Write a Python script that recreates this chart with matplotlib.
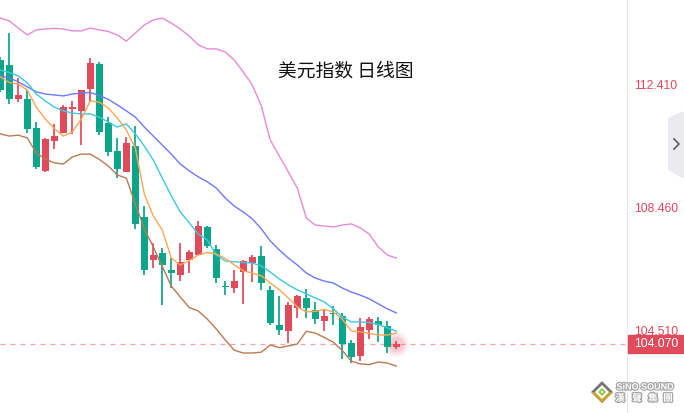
import matplotlib
matplotlib.use('Agg')
import matplotlib.pyplot as plt
import matplotlib.patheffects as pe
from matplotlib.patches import Polygon, Rectangle
from matplotlib.transforms import blended_transform_factory
import numpy as np

# 美元指数 日线 K线
opens = [113.20, 113.04, 111.95, 111.95, 111.02, 109.64, 110.60, 110.86, 111.63, 111.57,
         112.27, 113.08, 111.18, 110.28, 109.61, 110.44, 108.16, 106.78, 107.00, 106.46,
         106.30, 106.78, 106.94, 107.84, 107.13, 105.94, 105.88, 106.39, 106.68, 106.91,
         105.82, 104.69, 104.50, 105.24, 105.56, 105.17, 104.82, 105.08, 104.98, 104.11,
         103.70, 104.53, 104.82, 104.66, 103.98]
highs = [113.30, 114.07, 112.63, 112.24, 111.21, 110.70, 111.15, 111.76, 111.89, 112.24,
         113.27, 113.14, 111.37, 110.70, 110.73, 111.08, 108.51, 107.33, 107.16, 106.84,
         107.33, 107.10, 108.03, 107.87, 107.26, 106.10, 106.46, 106.78, 106.94, 107.23,
         105.94, 105.62, 105.43, 105.65, 105.85, 105.43, 105.17, 105.30, 105.08, 104.21,
         104.92, 104.95, 104.95, 104.82, 104.18]
lows = [112.18, 111.79, 111.85, 110.86, 109.70, 109.61, 110.34, 110.86, 110.83, 110.47,
        111.85, 110.79, 110.12, 109.41, 109.61, 107.78, 106.30, 106.52, 105.33, 105.88,
        106.10, 106.36, 106.94, 107.16, 106.04, 105.65, 105.72, 105.37, 106.07, 105.82,
        104.69, 104.37, 104.11, 104.92, 104.92, 104.72, 104.50, 104.69, 103.60, 103.47,
        103.53, 104.24, 104.14, 103.79, 103.92]
closes = [112.24, 111.95, 112.08, 110.99, 109.77, 110.67, 110.76, 111.69, 111.69, 112.24,
          113.11, 110.89, 110.25, 109.70, 110.54, 107.94, 106.46, 106.94, 106.62, 106.36,
          106.72, 107.04, 107.87, 107.23, 106.20, 105.91, 106.10, 106.75, 106.88, 106.04,
          104.76, 104.53, 105.33, 105.62, 105.24, 104.88, 104.98, 105.04, 104.08, 103.66,
          104.63, 104.88, 104.69, 103.98, 104.07]

# 均线 / 布林带
ma_short = [112.66, 112.48, 112.43, 112.24, 111.69, 111.31, 111.00, 110.76, 110.89, 111.31,
            111.89, 111.85, 111.66, 111.34, 110.96, 110.38, 108.90, 108.19, 107.74, 106.84,
            106.62, 106.76, 106.94, 107.02, 106.97, 106.83, 106.62, 106.43, 106.36, 106.27,
            106.04, 105.82, 105.56, 105.27, 105.11, 105.13, 105.19, 105.11, 104.88, 104.50,
            104.47, 104.42, 104.37, 104.37, 104.43]
ma_mid = [112.88, 112.80, 112.69, 112.47, 112.11, 111.89, 111.69, 111.57, 111.50, 111.47,
          111.47, 111.37, 111.21, 111.05, 111.15, 110.83, 110.44, 109.99, 109.41, 108.84,
          108.32, 107.97, 107.61, 107.42, 106.94, 106.75, 106.72, 106.70, 106.68, 106.59,
          106.39, 106.17, 105.98, 105.82, 105.69, 105.56, 105.43, 105.21, 104.95, 104.79,
          104.79, 104.77, 104.71, 104.60, 104.50]
boll_mid = [112.69, 112.63, 112.50, 112.34, 112.18, 112.11, 112.08, 112.05, 112.11, 112.14,
            112.16, 112.06, 111.94, 111.76, 111.57, 111.37, 111.05, 110.76, 110.47, 110.18,
            109.86, 109.64, 109.45, 109.29, 109.09, 108.77, 108.51, 108.32, 108.10, 107.78,
            107.39, 107.10, 106.84, 106.62, 106.36, 106.20, 106.10, 106.04, 105.88, 105.75,
            105.65, 105.53, 105.37, 105.21, 105.08]
boll_up = [114.55, 114.46, 114.23, 114.01, 114.17, 114.20, 114.22, 114.20, 114.14, 114.14,
           114.23, 114.17, 114.12, 114.01, 113.81, 114.07, 114.33, 114.49, 114.55, 114.39,
           114.20, 113.97, 113.69, 113.56, 113.56, 113.46, 113.20, 112.82, 112.40, 111.73,
           110.63, 110.12, 109.61, 109.09, 108.13, 107.90, 107.87, 107.84, 107.90, 107.94,
           107.81, 107.61, 107.20, 106.94, 106.84]
boll_dn = [110.83, 110.76, 110.79, 110.70, 110.22, 110.02, 109.90, 109.86, 110.09, 110.18,
           110.18, 110.01, 109.80, 109.51, 109.41, 108.58, 107.78, 107.20, 106.57, 105.94,
           105.59, 105.25, 105.14, 104.88, 104.56, 104.21, 103.88, 103.79, 103.79, 103.82,
           104.05, 103.96, 104.02, 104.08, 104.49, 104.43, 104.29, 104.14, 103.87, 103.53,
           103.44, 103.42, 103.50, 103.47, 103.37]

price_ticks = [104.510, 108.460, 112.410]
last_price = 104.070
title = '美元指数 日线图'

UP = '#e04b5b'
DOWN = '#0ba68a'
TXT_RED = '#e2485a'

fig = plt.figure(figsize=(6.84, 4.13), dpi=100)
fig.patch.set_facecolor('white')
ax = fig.add_axes([0, 0, 627 / 684, 1])

x = np.arange(len(closes))
o = np.array(opens)
c = np.array(closes)
colors = [UP if cc >= oo else DOWN for oo, cc in zip(o, c)]
bottoms = np.minimum(o, c)
heights = np.maximum(np.abs(c - o), 0.045)

# 最新价虚线和光晕
ax.axhline(last_price, color='#f5a3ab', lw=0.9, dashes=(4, 4), zorder=1)
for s, a in [(330, 0.08), (220, 0.12), (130, 0.2)]:
    ax.scatter([x[-1]], [last_price], s=s, color='#ee6f80', alpha=a, linewidths=0, zorder=2)

ax.vlines(x, lows, highs, colors=colors, lw=1.25, zorder=3)
ax.bar(x, heights, bottom=bottoms, width=0.78, color=colors, linewidth=0, zorder=3.1)

ax.plot(x, boll_up, color='#e68ad8', lw=1.0, zorder=4)
ax.plot(x, boll_dn, color='#b97a52', lw=1.0, zorder=4)
ax.plot(x, boll_mid, color='#6b7bf0', lw=1.0, zorder=4)
ax.plot(x, ma_mid, color='#3fc6e2', lw=1.0, zorder=4)
ax.plot(x, ma_short, color='#ffa556', lw=1.0, zorder=4)

ax.set_xlim(-0.3 / 9, (627 - 0.3) / 9)
ax.set_ylim(101.864, 115.131)
ax.set_xticks([])
ax.yaxis.tick_right()
ax.set_yticks(price_ticks)
ax.set_yticklabels([f'{v:.3f}' for v in price_ticks], family='Liberation Sans')
ax.tick_params(axis='y', length=0, pad=5, labelcolor=TXT_RED, labelsize=8.8)
for side in ['top', 'left', 'bottom']:
    ax.spines[side].set_visible(False)
ax.spines['right'].set_color('#e8e8ec')
ax.spines['right'].set_linewidth(0.8)

# 最新价标签
bt = blended_transform_factory(ax.transAxes, ax.transData)
ax.add_patch(Rectangle((1.0015, last_price - 0.29), 60 / 627, 0.58, transform=bt,
                       color=UP, clip_on=False, zorder=6))
ax.text(1.0 + 7 / 627, last_price, f'{last_price:.3f}', transform=bt, color='white',
        va='center', ha='left', fontsize=8.8, family='Liberation Sans', zorder=7, clip_on=False)

fig.text(346 / 684, 1 - 71 / 413, title, ha='center', va='center', fontsize=13.5,
         family=['Noto Sans CJK SC', 'DejaVu Sans'], color='#111111')

# 像素坐标的装饰层
ov = fig.add_axes([0, 0, 1, 1])
ov.set_xlim(0, 684)
ov.set_ylim(413, 0)
ov.axis('off')

ov.add_patch(Polygon([(668, 118), (684, 111), (684, 179), (668, 170)], closed=True,
                     fc='#ebebef', ec='none'))
ov.plot([674, 679, 674], [139, 144, 149], color='#5a5f6e', lw=1.2)

# 标志
cx, cy = 602, 392
ov.add_patch(Polygon([(cx, cy - 11), (cx + 11, cy), (cx, cy + 11), (cx - 11, cy)], fc='#777777', ec='none'))
ov.add_patch(Polygon([(cx - 11, cy), (cx + 11, cy), (cx, cy + 11)], fc='#c9a227', ec='none'))
ov.add_patch(Polygon([(cx, cy - 7), (cx + 7, cy), (cx, cy + 7), (cx - 7, cy)], fc='white', ec='none'))
ov.add_patch(Polygon([(cx, cy - 4), (cx + 4, cy), (cx, cy + 4), (cx - 4, cy)], fc='#8dc63f', ec='none'))
ov.add_patch(Polygon([(cx, cy - 1.5), (cx + 1.5, cy), (cx, cy + 1.5), (cx - 1.5, cy)], fc='white', ec='none'))
stroke = [pe.withStroke(linewidth=1.8, foreground='#a8a8a8')]
ov.text(645, 387, 'SiNO SOUND', ha='center', va='center', fontsize=6.5, weight='bold',
        color='white', family='Liberation Sans', path_effects=stroke)
for xx, ch in zip([620, 637, 653, 668], '漢聲集團'):
    ov.text(xx, 398, ch, ha='center', va='center', fontsize=6.8, weight='bold', color='white',
            family=['Noto Sans CJK TC', 'DejaVu Sans'], path_effects=stroke)

fig.savefig('out.png', dpi=100)
